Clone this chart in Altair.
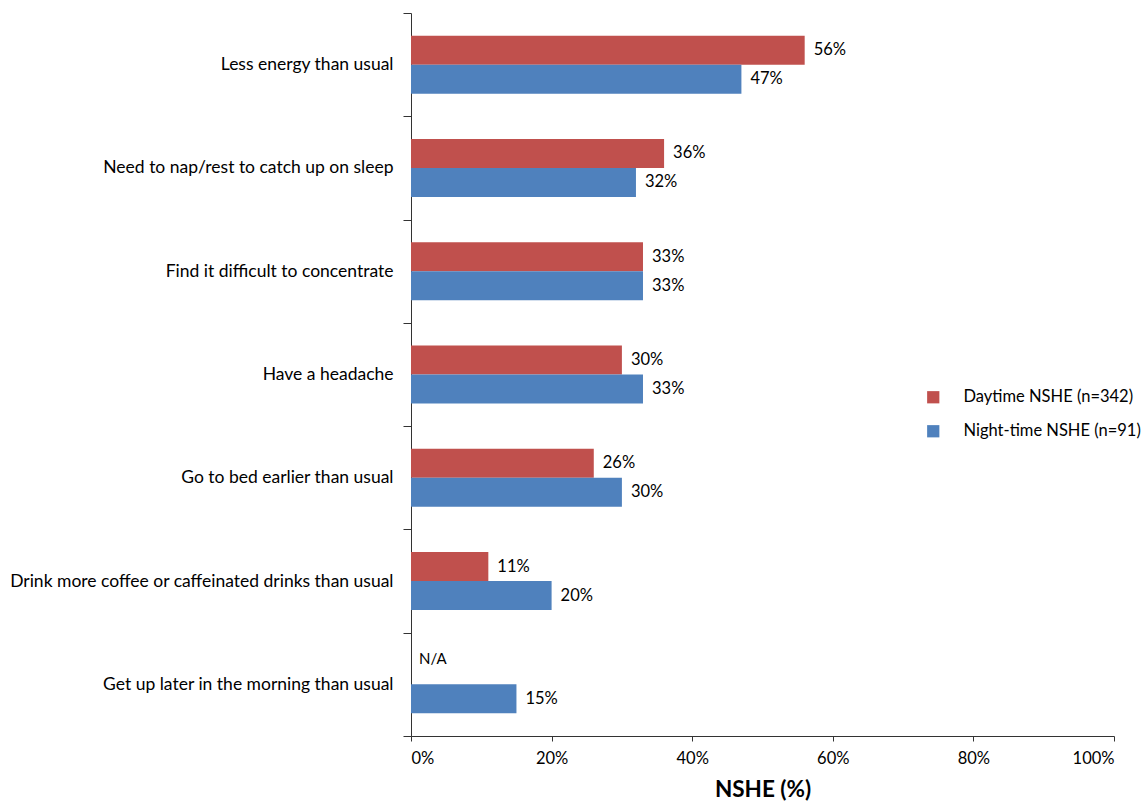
import altair as alt
import pandas as pd

categories = [
    "Less energy than usual",
    "Need to nap/rest to catch up on sleep",
    "Find it difficult to concentrate",
    "Have a headache",
    "Go to bed earlier than usual",
    "Drink more coffee or caffeinated drinks than usual",
    "Get up later in the morning than usual",
]
series = ["Daytime NSHE (n=342)", "Night-time NSHE (n=91)"]
daytime = [56, 36, 33, 30, 26, 11, None]
nighttime = [47, 32, 33, 33, 30, 20, 15]

rows = []
for c, d, n in zip(categories, daytime, nighttime):
    rows.append({"cat": c, "series": series[0], "value": d})
    rows.append({"cat": c, "series": series[1], "value": n})
df = pd.DataFrame(rows)

FONT = "Lato"

y_enc = alt.Y("cat:N", sort=categories,
              scale=alt.Scale(paddingInner=0, paddingOuter=0),
              axis=alt.Axis(title=None, tickBand="extent", tickSize=8, labelPadding=10,
                            labelFontSize=17.5, labelFont=FONT, labelColor="black",
                            domainColor="#333", tickColor="#333", labelLimit=600))
yoff = alt.YOffset("series:N", sort=series,
                   scale=alt.Scale(paddingInner=0, paddingOuter=0.78))

x_scale = alt.Scale(domain=[0, 100])

bars = alt.Chart(df).mark_bar(stroke=None).encode(
    x=alt.X("value:Q", scale=x_scale,
            axis=alt.Axis(title="NSHE (%)", values=[0, 20, 40, 60, 80, 100],
                          labelExpr="datum.value + '%'", grid=False,
                          tickSize=5, labelPadding=9, labelFontSize=16.5, labelFont=FONT,
                          labelColor="black", domainColor="#333", tickColor="#333",
                          titleFontSize=22.5, titleFont=FONT, titleFontWeight="bold",
                          titleColor="black", titlePadding=12)),
    y=y_enc,
    yOffset=yoff,
    color=alt.Color("series:N", sort=series,
                    scale=alt.Scale(domain=series, range=["#C0504D", "#4F81BD"]),
                    legend=alt.Legend(title=None, orient="none", legendX=514, legendY=376,
                                      symbolType="square", symbolSize=150,
                                      symbolStrokeWidth=0, labelFontSize=16.5, labelFont=FONT,
                                      labelColor="black", rowPadding=17, labelOffset=22,
                                      labelLimit=400)),
)

labels = alt.Chart(df).transform_filter("datum.value != null").transform_calculate(
    txt="datum.value + '%'",
).mark_text(align="left", baseline="middle", dx=9, fontSize=16.5, font=FONT, color="black").encode(
    x=alt.X("value:Q", scale=x_scale),
    y=alt.Y("cat:N", sort=categories),
    yOffset=alt.YOffset("series:N", sort=series),
    text="txt:N",
)

na_labels = alt.Chart(df).transform_filter("datum.value == null").transform_calculate(
    pos="0", txt="'N/A'",
).mark_text(align="left", baseline="middle", dx=8, dy=-11, fontSize=15, font=FONT, color="black").encode(
    x=alt.X("pos:Q", scale=x_scale),
    y=alt.Y("cat:N", sort=categories),
    yOffset=alt.YOffset("series:N", sort=series),
    text="txt:N",
)

chart = (bars + labels + na_labels).properties(
    width=703, height=723,
    autosize=alt.AutoSizeParams(type="none"),
    padding={"left": 411, "top": 13, "right": 32, "bottom": 67},
    background="white",
).configure_view(stroke=None, strokeWidth=0)

chart.save("out.html", embed_options={"renderer": "svg", "actions": False})
